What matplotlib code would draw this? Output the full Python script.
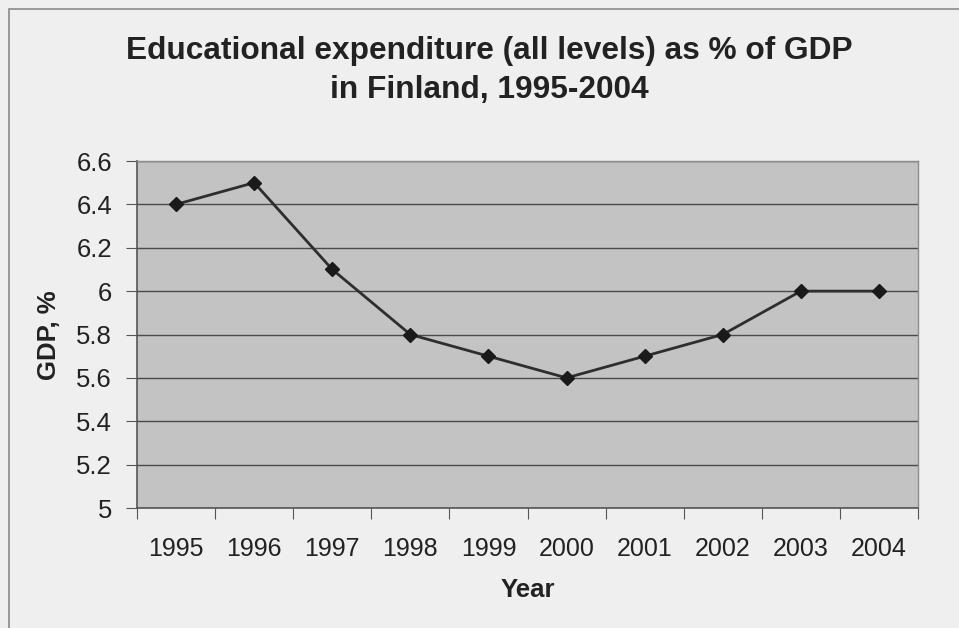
import matplotlib.pyplot as plt
from matplotlib.patches import Rectangle

plt.rcParams['font.family'] = ['Liberation Sans', 'DejaVu Sans']

years = ['1995', '1996', '1997', '1998', '1999', '2000', '2001', '2002', '2003', '2004']
gdp_share = [6.4, 6.5, 6.1, 5.8, 5.7, 5.6, 5.7, 5.8, 6.0, 6.0]
y_ticks = [5, 5.2, 5.4, 5.6, 5.8, 6, 6.2, 6.4, 6.6]
y_labels = ['5', '5.2', '5.4', '5.6', '5.8', '6', '6.2', '6.4', '6.6']

W, H = 959, 628
fig = plt.figure(figsize=(W / 100, H / 100), dpi=100)
fig.patch.set_facecolor('#efefef')

# chart frame, runs off the right and bottom edges
fig.patches.append(Rectangle((9 / W, -0.1), 1.2, 1 - 9 / H + 0.1, transform=fig.transFigure,
                             fill=False, edgecolor='#8a8a8a', linewidth=1.2))

ax = fig.add_axes([137 / W, 1 - 508 / H, (918 - 137) / W, (508 - 161) / H])
ax.set_facecolor('#c3c3c3')

x = list(range(len(years)))
ax.plot(x, gdp_share, color='#2e2e2e', linewidth=2, marker='D', markersize=7,
        markerfacecolor='#1a1a1a', markeredgecolor='#1a1a1a', zorder=3)

ax.set_xlim(-0.5, len(years) - 0.5)
ax.set_ylim(5, 6.6)
ax.set_yticks(y_ticks)
ax.set_yticklabels(y_labels)
ax.yaxis.grid(True, color='#4a4a4a', linewidth=1)
ax.set_axisbelow(True)

# category ticks sit between the years
ax.set_xticks([i - 0.5 for i in range(len(years) + 1)])
ax.set_xticklabels([])
ax.set_xticks(x, minor=True)
ax.set_xticklabels(years, minor=True)
ax.tick_params(axis='x', which='minor', length=0, pad=21, labelsize=18, labelcolor='#222222')
ax.tick_params(axis='x', which='major', length=8, color='#555555')
ax.tick_params(axis='y', length=8, pad=10, labelsize=18.5, labelcolor='#222222', color='#555555')

for side in ['left', 'bottom']:
    ax.spines[side].set_color('#555555')
    ax.spines[side].set_linewidth(1.2)
for side in ['top', 'right']:
    ax.spines[side].set_color('#8c8c8c')
    ax.spines[side].set_linewidth(1)

fig.text(489 / W, 1 - 59 / H, 'Educational expenditure (all levels) as % of GDP',
         ha='center', va='baseline', fontsize=22.8, fontweight='bold', color='#222222')
fig.text(489 / W, 1 - 98 / H, 'in Finland, 1995-2004',
         ha='center', va='baseline', fontsize=22.8, fontweight='bold', color='#222222')
fig.text(528 / W, 1 - 590 / H, 'Year', ha='center', va='center',
         fontsize=18.5, fontweight='bold', color='#222222')
fig.text(49 / W, 1 - 335 / H, 'GDP, %', ha='center', va='center', rotation=90,
         fontsize=18.5, fontweight='bold', color='#222222')

fig.savefig('out.png', dpi=100, facecolor=fig.get_facecolor())
